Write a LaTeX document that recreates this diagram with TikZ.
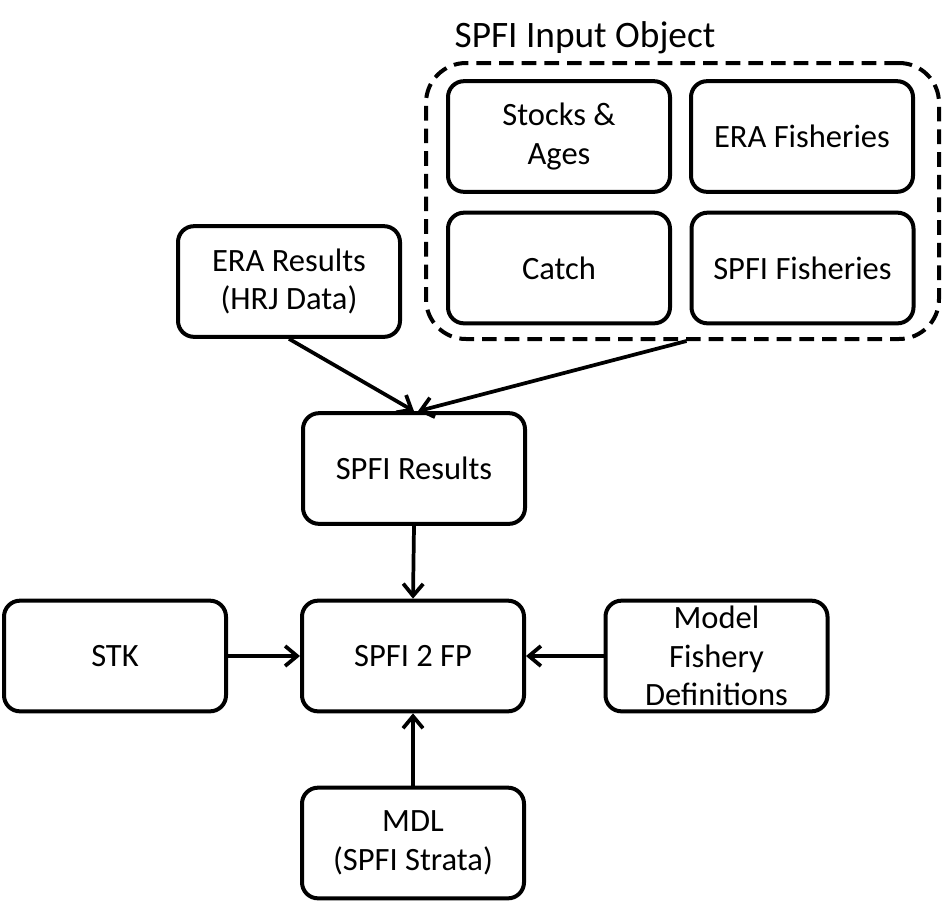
\documentclass[tikz,border=0pt]{standalone}
\usepackage{fontspec}
\setmainfont{Carlito}
\usetikzlibrary{arrows.meta}
\begin{document}
\begin{tikzpicture}[x=0.75pt,y=-0.75pt,
  box/.style={draw, line width=3pt, rounded corners=12pt, minimum width=166.5pt, minimum height=83pt,
    align=center, inner sep=0pt, font=\fontsize{24.4}{29}\selectfont},
  group/.style={draw, line width=3pt, dash pattern=on 11pt off 6pt, rounded corners=30pt},
  arr/.style={line width=2.8pt, -{Straight Barb[length=9pt,width=15pt,line width=2.8pt]}},
  titletext/.style={anchor=base, inner sep=0pt, font=\fontsize{28}{34}\selectfont}]
\useasboundingbox (0,0) rectangle (942,904);
% container
\node[group, minimum width=384.75pt, minimum height=207pt] (input) at (682.5,201) {};
\node[titletext] (title) at (585,47) {SPFI Input Object};
% inner boxes
\node[box] (stocks) at (559,136.5) {Stocks \&\\Ages};
\node[box] (erafish) at (802,136.5) {ERA Fisheries};
\node[box] (catch) at (559,268) {Catch};
\node[box] (spfifish) at (802.5,268) {SPFI Fisheries};
% other boxes
\node[box] (erares) at (289,281.5) {ERA Results\\(HRJ Data)};
\node[box] (spfires) at (414,468.5) {SPFI Results};
\node[box] (fp) at (413,656) {SPFI 2 FP};
\node[box] (stk) at (115,656) {STK};
\node[box] (model) at (716.5,656) {Model\\Fishery\\Definitions};
\node[box] (mdl) at (413,843) {MDL\\(SPFI Strata)};
% connectors
\draw[arr] (erares.south) -- (spfires.north);
\draw[arr] ([xshift=3pt]input.south) -- ([xshift=3pt]spfires.north);
\draw[arr] (spfires.south) -- (fp.north);
\draw[arr] (stk.east) -- (fp.west);
\draw[arr] (model.west) -- (fp.east);
\draw[arr] (mdl.north) -- (fp.south);
\end{tikzpicture}
\end{document}
